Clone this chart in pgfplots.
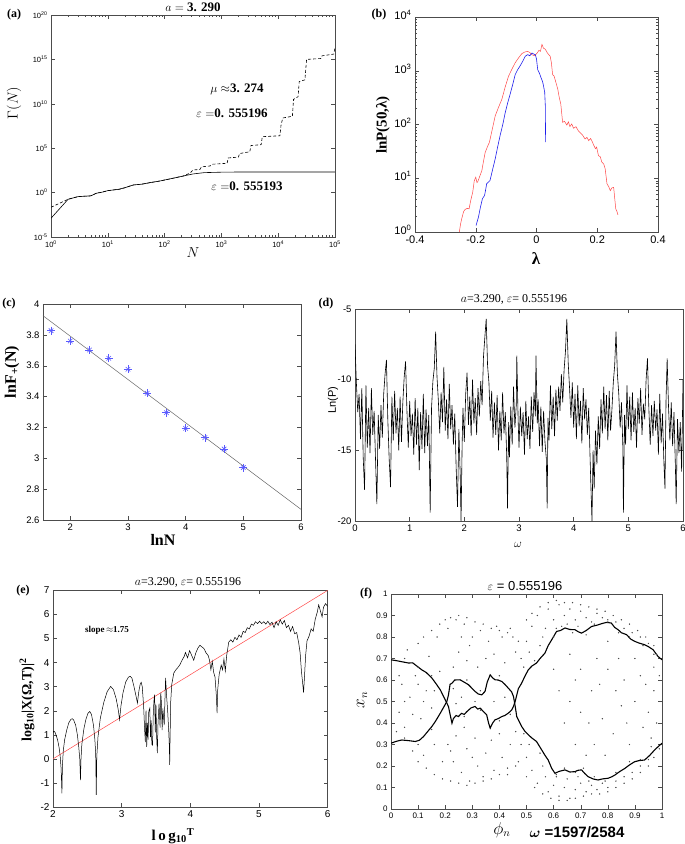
\documentclass[border=0pt]{standalone}
\usepackage{amsmath}
\usepackage{pgfplots}
\pgfplotsset{compat=1.18}
\usepackage{fontspec}
\setmainfont{Liberation Serif}
\setsansfont{Liberation Sans}
\newcommand\fs[1]{\fontsize{#1}{#1}\selectfont}
\definecolor{mred}{RGB}{255,70,70}
\definecolor{mblue}{RGB}{30,30,235}
\definecolor{sblue}{RGB}{90,90,255}
\pgfplotsset{
 base/.style={scale only axis, anchor=south west, tick align=inside,
   axis line style={line width=0.5pt,black!70},
   tick style={line width=0.4pt,black!70},
   major tick length=4pt, minor tick length=2pt,
   ticklabel style={font=\sffamily\fs{9}},
   /pgf/number format/assume math mode=true},
}
\begin{document}
\begin{tikzpicture}
\useasboundingbox (0pt,0pt) rectangle (685pt,-844pt);
% ---------------- (a)
\begin{axis}[base, at={(51pt,-237pt)}, width=284pt, height=222pt,
  xmin=0, xmax=5, ymin=-5, ymax=20,
  xtick={0,1,2,3,4,5},
  xticklabels={10\textsuperscript{0},10\textsuperscript{1},10\textsuperscript{2},10\textsuperscript{3},10\textsuperscript{4},10\textsuperscript{5}},
  ytick={-5,0,5,10,15,20},
  yticklabels={10\textsuperscript{-5},10\textsuperscript{0},10\textsuperscript{5},10\textsuperscript{10},10\textsuperscript{15},10\textsuperscript{20}},
  minor xtick={0.301,0.477,0.602,0.699,0.778,0.845,0.903,0.954,1.301,1.477,1.602,1.699,1.778,1.845,1.903,1.954,2.301,2.477,2.602,2.699,2.778,2.845,2.903,2.954,3.301,3.477,3.602,3.699,3.778,3.845,3.903,3.954,4.301,4.477,4.602,4.699,4.778,4.845,4.903,4.954},
  ticklabel style={font=\sffamily\fs{7.5}}]
\addplot[black, line width=0.6pt] coordinates {(0,-2.89)(0.301,-0.75)(0.477,-0.45)(0.6,-0.40)(0.7,-0.37)(0.8,-0.07)(0.9,0.05)(1.0,0.22)(1.1,0.30)(1.2,0.38)(1.3,0.55)(1.45,0.86)(1.6,0.95)(1.74,1.12)(1.92,1.31)(2.0,1.42)(2.15,1.62)(2.33,1.87)(2.5,2.10)(2.7,2.25)(3.0,2.30)(3.3,2.32)(5,2.32)};
\addplot[black, line width=0.6pt, dash pattern=on 3pt off 2pt] coordinates {(0,-1.65)(0.301,-0.75)(0.477,-0.45)(0.6,-0.40)(0.7,-0.37)(0.8,-0.07)(0.9,0.05)(1.0,0.22)(1.1,0.30)(1.2,0.38)(1.3,0.55)(1.45,0.86)(1.6,0.95)(1.74,1.12)(1.92,1.31)(2.0,1.42)(2.15,1.62)(2.33,1.87)(2.45,2.2)(2.5,2.55)(2.62,2.6)(2.65,2.9)(2.8,3.0)(2.85,3.2)(3.1,3.3)(3.12,3.9)(3.3,4.0)(3.32,4.4)(3.5,4.6)(3.52,5.3)(3.7,5.4)(3.72,6.3)(4.03,6.4)(4.05,7.6)(4.08,8.4)(4.25,8.6)(4.27,10.5)(4.35,10.8)(4.37,12.5)(4.47,12.7)(4.5,15.0)(4.75,15.1)(4.77,15.4)(4.98,15.6)(5,16.4)};
\end{axis}
% ---------------- (b)
\begin{axis}[base, at={(415pt,-232pt)}, width=243pt, height=215pt,
  xmin=-0.4, xmax=0.4, ymin=0, ymax=4,
  xtick={-0.4,-0.2,0,0.2,0.4},
  ytick={0,1,2,3,4},
  yticklabels={10\textsuperscript{0},10\textsuperscript{1},10\textsuperscript{2},10\textsuperscript{3},10\textsuperscript{4}},
  minor ytick={0.301,0.477,0.602,0.699,0.778,0.845,0.903,0.954,1.301,1.477,1.602,1.699,1.778,1.845,1.903,1.954,2.301,2.477,2.602,2.699,2.778,2.845,2.903,2.954,3.301,3.477,3.602,3.699,3.778,3.845,3.903,3.954},
  ticklabel style={font=\sffamily\fs{11}},
  yticklabel style={yshift=2pt}]
\addplot[mred, line width=0.5pt] coordinates {(-0.254,0.00)(-0.250,0.15)(-0.246,0.25)(-0.240,0.38)(-0.235,0.42)(-0.228,0.44)(-0.222,0.43)(-0.216,0.60)(-0.210,0.74)(-0.205,0.95)(-0.200,1.02)(-0.196,0.92)(-0.193,0.94)(-0.186,1.05)(-0.180,1.14)(-0.175,1.30)(-0.169,1.48)(-0.162,1.58)(-0.155,1.67)(-0.146,1.90)(-0.136,2.16)(-0.125,2.32)(-0.114,2.47)(-0.103,2.70)(-0.092,2.90)(-0.081,3.03)(-0.070,3.15)(-0.059,3.24)(-0.048,3.32)(-0.038,3.35)(-0.029,3.36)(-0.022,3.34)(-0.015,3.30)(-0.008,3.28)(0.001,3.32)(0.008,3.38)(0.013,3.36)(0.018,3.49)(0.023,3.42)(0.029,3.40)(0.036,3.33)(0.045,3.27)(0.049,3.15)(0.053,2.93)(0.058,2.90)(0.064,2.78)(0.070,2.66)(0.075,2.50)(0.080,2.38)(0.086,2.04)(0.092,2.06)(0.100,1.99)(0.105,2.05)(0.110,1.96)(0.116,2.01)(0.122,1.93)(0.130,1.96)(0.138,1.88)(0.145,1.84)(0.152,1.80)(0.160,1.73)(0.166,1.76)(0.172,1.70)(0.178,1.74)(0.182,1.70)(0.188,1.62)(0.194,1.55)(0.198,1.58)(0.204,1.42)(0.210,1.40)(0.215,1.30)(0.221,1.27)(0.226,1.18)(0.232,0.90)(0.238,0.84)(0.243,0.77)(0.248,0.82)(0.254,0.83)(0.258,0.60)(0.261,0.43)(0.265,0.38)(0.268,0.32)};
\addplot[mblue, line width=0.6pt] coordinates {(-0.199,0.12)(-0.195,0.20)(-0.191,0.28)(-0.185,0.45)(-0.178,0.62)(-0.171,0.68)(-0.167,0.80)(-0.164,0.90)(-0.158,0.93)(-0.153,0.96)(-0.145,1.15)(-0.136,1.36)(-0.128,1.58)(-0.120,1.79)(-0.111,2.00)(-0.103,2.22)(-0.095,2.40)(-0.087,2.56)(-0.078,2.75)(-0.070,2.93)(-0.062,3.02)(-0.054,3.09)(-0.045,3.18)(-0.037,3.27)(-0.029,3.30)(-0.022,3.28)(-0.015,3.33)(-0.009,3.31)(-0.004,3.30)(0.000,3.22)(0.004,3.02)(0.010,2.95)(0.015,2.87)(0.020,2.80)(0.023,2.72)(0.027,2.60)(0.029,2.35)(0.030,1.67)};
\end{axis}
% ---------------- (c)
\begin{axis}[base, at={(43pt,-520pt)}, width=258pt, height=216pt,
  xmin=1.527, xmax=6, ymin=2.6, ymax=4,
  xtick={2,3,4,5,6}, ytick={2.6,2.8,3,3.2,3.4,3.6,3.8,4},
  ticklabel style={font=\sffamily\fs{9.5}}]
\addplot[black!60, line width=0.5pt] coordinates {(1.527,3.924)(6,2.669)};
\addplot[only marks, mark=+, mark size=4pt, sblue, mark options={line width=0.6pt}] coordinates {(1.667,3.827)(2,3.760)(2.333,3.702)(2.667,3.648)(3,3.577)(3.333,3.421)(3.667,3.296)(4,3.194)(4.333,3.134)(4.667,3.060)(5,2.94)};
\addplot[only marks, mark=x, mark size=3.2pt, sblue, mark options={line width=0.6pt}] coordinates {(1.667,3.827)(2,3.760)(2.333,3.702)(2.667,3.648)(3,3.577)(3.333,3.421)(3.667,3.296)(4,3.194)(4.333,3.134)(4.667,3.060)(5,2.94)};
\end{axis}
% ---------------- (d)
\begin{axis}[base, at={(355pt,-521pt)}, width=328pt, height=212pt,
  xmin=0, xmax=6, ymin=-20, ymax=-5,
  xtick={0,1,2,3,4,5,6}, ytick={-20,-15,-10,-5},
  ticklabel style={font=\sffamily\fs{9.5}}]
\addplot[black, line width=0.6pt] coordinates {(0.000,-7.5)(0.025,-10.2)(0.050,-12.3)(0.075,-11.0)(0.100,-14.2)(0.125,-10.6)(0.150,-15.5)(0.175,-17.8)(0.200,-10.4)(0.225,-14.8)(0.250,-12.0)(0.275,-15.2)(0.300,-10.6)(0.325,-13.9)(0.350,-12.2)(0.375,-15.6)(0.400,-18.8)(0.425,-12.5)(0.450,-14.9)(0.475,-11.8)(0.500,-14.1)(0.525,-11.0)(0.550,-9.6)(0.575,-8.6)(0.600,-12.8)(0.625,-15.6)(0.650,-17.6)(0.675,-11.2)(0.700,-14.3)(0.725,-10.8)(0.750,-13.8)(0.775,-12.0)(0.800,-15.0)(0.825,-11.2)(0.850,-14.4)(0.875,-11.6)(0.900,-9.8)(0.925,-8.7)(0.950,-12.2)(0.975,-14.8)(1.000,-11.5)(1.025,-14.0)(1.050,-12.4)(1.075,-15.3)(1.100,-11.3)(1.125,-14.6)(1.150,-12.0)(1.175,-16.4)(1.200,-12.3)(1.225,-14.9)(1.250,-11.0)(1.275,-15.2)(1.300,-12.1)(1.325,-14.7)(1.350,-12.5)(1.375,-19.4)(1.400,-12.0)(1.425,-10.1)(1.450,-9.2)(1.475,-6.6)(1.500,-9.8)(1.525,-11.5)(1.550,-13.8)(1.575,-10.9)(1.600,-13.0)(1.625,-9.1)(1.650,-13.6)(1.675,-11.4)(1.700,-14.2)(1.725,-10.3)(1.750,-13.5)(1.775,-11.8)(1.800,-14.6)(1.825,-12.4)(1.850,-16.2)(1.875,-19.0)(1.900,-13.5)(1.925,-16.8)(1.940,-20.0)(1.960,-14.5)(1.975,-12.0)(2.000,-14.4)(2.025,-11.0)(2.050,-9.5)(2.075,-13.2)(2.100,-11.2)(2.125,-14.0)(2.150,-10.0)(2.175,-13.1)(2.200,-11.3)(2.225,-13.9)(2.250,-10.6)(2.275,-12.6)(2.300,-10.1)(2.325,-11.8)(2.350,-8.4)(2.375,-7.0)(2.400,-5.7)(2.425,-9.0)(2.450,-10.2)(2.475,-12.9)(2.500,-10.8)(2.525,-14.1)(2.550,-11.6)(2.575,-13.9)(2.600,-11.1)(2.625,-15.0)(2.650,-12.2)(2.675,-14.3)(2.700,-10.9)(2.725,-13.8)(2.750,-12.3)(2.775,-15.4)(2.790,-19.1)(2.810,-13.0)(2.825,-15.5)(2.850,-11.9)(2.875,-14.6)(2.900,-10.5)(2.925,-13.4)(2.950,-11.8)(2.960,-8.3)(2.985,-13.0)(3.000,-14.8)(3.025,-11.9)(3.050,-14.0)(3.075,-12.3)(3.100,-15.3)(3.125,-11.5)(3.150,-14.2)(3.175,-12.6)(3.200,-14.9)(3.225,-11.2)(3.250,-13.7)(3.275,-10.9)(3.300,-12.6)(3.310,-8.3)(3.335,-13.1)(3.350,-11.4)(3.375,-14.7)(3.400,-11.9)(3.425,-15.1)(3.450,-12.2)(3.475,-14.4)(3.500,-15.6)(3.515,-19.1)(3.530,-12.7)(3.550,-14.3)(3.575,-10.4)(3.600,-13.5)(3.625,-11.2)(3.650,-14.0)(3.675,-10.7)(3.700,-12.9)(3.725,-10.5)(3.750,-12.2)(3.775,-9.6)(3.800,-11.6)(3.825,-9.3)(3.850,-8.0)(3.875,-5.7)(3.900,-8.8)(3.925,-10.6)(3.950,-12.7)(3.975,-10.2)(4.000,-13.4)(4.025,-11.0)(4.050,-14.2)(4.075,-10.4)(4.100,-13.3)(4.125,-11.5)(4.150,-14.5)(4.175,-10.6)(4.200,-12.8)(4.225,-11.4)(4.250,-13.9)(4.275,-12.0)(4.300,-15.5)(4.315,-17.5)(4.335,-20.0)(4.355,-15.0)(4.375,-17.7)(4.400,-13.6)(4.425,-16.0)(4.450,-12.6)(4.475,-14.9)(4.500,-11.4)(4.525,-13.8)(4.550,-10.5)(4.575,-13.5)(4.600,-11.1)(4.625,-14.3)(4.650,-10.8)(4.675,-13.6)(4.700,-12.1)(4.725,-10.2)(4.750,-9.0)(4.775,-6.6)(4.800,-9.6)(4.825,-11.0)(4.850,-13.4)(4.875,-11.6)(4.900,-14.8)(4.910,-19.4)(4.930,-12.5)(4.950,-14.6)(4.975,-10.4)(5.000,-13.5)(5.025,-11.2)(5.050,-14.3)(5.075,-10.9)(5.100,-13.7)(5.125,-12.0)(5.150,-14.8)(5.175,-11.3)(5.200,-13.1)(5.225,-10.6)(5.250,-13.9)(5.275,-11.7)(5.300,-12.8)(5.325,-10.0)(5.350,-8.5)(5.375,-12.0)(5.400,-14.6)(5.425,-11.8)(5.450,-14.0)(5.475,-11.5)(5.500,-13.6)(5.525,-12.1)(5.550,-15.3)(5.575,-11.0)(5.600,-14.5)(5.625,-12.4)(5.650,-15.8)(5.670,-17.7)(5.690,-11.4)(5.710,-8.5)(5.735,-11.9)(5.760,-14.3)(5.785,-11.6)(5.810,-14.7)(5.835,-12.3)(5.860,-16.0)(5.875,-18.8)(5.900,-12.8)(5.925,-15.2)(5.950,-13.0)(5.975,-16.5)(6.000,-10.0)};
\end{axis}
% ---------------- (e)
\begin{axis}[base, at={(53pt,-807pt)}, width=274.6pt, height=216.6pt,
  xmin=2, xmax=6, ymin=-2, ymax=7,
  xtick={2,3,4,5,6}, ytick={-2,-1,0,1,2,3,4,5,6,7},
  ticklabel style={font=\sffamily\fs{10}}]
\addplot[mred, line width=0.5pt] coordinates {(2,0)(6,7)};
\addplot[black, line width=0.5pt] coordinates {(2.000,1.07)(2.005,1.14)(2.015,1.15)(2.03,1.10)(2.05,0.95)(2.07,0.75)(2.09,0.45)(2.105,0.1)(2.118,-0.4)(2.13,-1.43)(2.137,-0.3)(2.15,0.35)(2.17,0.8)(2.2,1.2)(2.23,1.5)(2.26,1.64)(2.28,1.67)(2.30,1.62)(2.33,1.4)(2.355,1.0)(2.375,0.5)(2.39,0.0)(2.40,-0.88)(2.408,0.0)(2.42,0.6)(2.45,1.25)(2.48,1.65)(2.51,1.9)(2.535,1.97)(2.56,1.85)(2.59,1.4)(2.61,0.8)(2.622,0.2)(2.63,-1.5)(2.638,0.1)(2.655,0.9)(2.69,1.7)(2.74,2.35)(2.79,2.8)(2.84,3.01)(2.88,2.88)(2.92,2.5)(2.95,2.05)(2.97,1.63)(2.99,2.2)(3.02,2.75)(3.06,3.2)(3.10,3.4)(3.126,3.43)(3.15,3.35)(3.18,3.0)(3.21,2.6)(3.23,2.32)(3.25,2.8)(3.27,3.1)(3.285,3.18)(3.30,3.0)(3.32,2.2)(3.335,1.2)(3.345,0.7)(3.355,2.0)(3.365,0.5)(3.375,1.5)(3.385,0.8)(3.395,1.97)(3.41,2.1)(3.42,0.9)(3.43,1.6)(3.44,0.6)(3.45,0.57)(3.46,1.8)(3.47,2.4)(3.48,2.67)(3.49,1.1)(3.50,2.25)(3.51,0.9)(3.52,0.24)(3.53,1.5)(3.545,2.3)(3.56,1.3)(3.57,2.75)(3.58,2.3)(3.59,1.2)(3.60,2.1)(3.62,1.4)(3.64,3.37)(3.655,2.6)(3.67,2.0)(3.685,1.2)(3.695,0.5)(3.70,-0.25)(3.705,0.8)(3.715,2.4)(3.73,3.1)(3.76,3.57)(3.79,3.7)(3.82,3.8)(3.85,3.92)(3.88,4.1)(3.91,4.25)(3.93,4.42)(3.96,4.2)(3.99,4.5)(4.02,4.3)(4.05,4.1)(4.08,4.4)(4.11,4.6)(4.14,4.72)(4.17,4.65)(4.20,4.58)(4.23,4.4)(4.26,4.3)(4.28,4.1)(4.30,3.7)(4.32,4.05)(4.34,3.6)(4.36,3.4)(4.38,2.6)(4.39,1.9)(4.40,2.9)(4.42,3.5)(4.45,3.9)(4.47,3.7)(4.49,4.15)(4.51,3.65)(4.53,4.3)(4.56,4.85)(4.59,4.95)(4.62,4.85)(4.65,5.05)(4.68,4.95)(4.71,5.15)(4.74,5.05)(4.77,5.3)(4.80,5.25)(4.83,5.45)(4.86,5.4)(4.89,5.6)(4.92,5.55)(4.95,5.7)(4.98,5.62)(5.01,5.72)(5.04,5.62)(5.07,5.7)(5.10,5.6)(5.13,5.72)(5.16,5.58)(5.19,5.68)(5.22,5.45)(5.25,5.7)(5.28,5.55)(5.31,5.78)(5.34,5.6)(5.37,5.75)(5.40,5.45)(5.43,5.55)(5.46,5.3)(5.49,5.5)(5.52,5.2)(5.55,5.25)(5.58,4.8)(5.60,4.4)(5.62,3.6)(5.635,3.2)(5.65,2.75)(5.665,3.5)(5.68,4.3)(5.70,4.9)(5.73,5.1)(5.76,5.4)(5.79,5.3)(5.82,5.8)(5.85,6.1)(5.87,6.4)(5.89,6.2)(5.92,5.9)(5.94,6.3)(5.97,6.45)(6.0,6.34)};
\end{axis}
% ---------------- (f)
\begin{axis}[base, at={(391pt,-809pt)}, width=271pt, height=215pt,
  xmin=0, xmax=1, ymin=0, ymax=1,
  xtick={0,0.1,0.2,0.3,0.4,0.5,0.6,0.7,0.8,0.9,1},
  ytick={0,0.1,0.2,0.3,0.4,0.5,0.6,0.7,0.8,0.9,1},
  ticklabel style={font=\sffamily\fs{8}}]
\addplot[only marks, mark=*, mark size=0.45pt, black!70] coordinates {(0.03,0.45)(0.05,0.38)(0.04,0.58)(0.07,0.52)(0.09,0.62)(0.11,0.42)(0.13,0.55)(0.15,0.47)(0.08,0.27)(0.12,0.25)(0.06,0.74)(0.10,0.77)(0.14,0.71)(0.17,0.80)(0.16,0.30)(0.19,0.22)(0.02,0.36)(0.18,0.64)(0.21,0.84)(0.24,0.88)(0.27,0.86)(0.30,0.80)(0.33,0.83)(0.36,0.78)(0.25,0.73)(0.28,0.69)(0.32,0.66)(0.38,0.72)(0.41,0.80)(0.44,0.84)(0.47,0.78)(0.23,0.66)(0.35,0.70)(0.42,0.68)(0.46,0.73)(0.39,0.85)(0.29,0.76)(0.26,0.80)(0.21,0.30)(0.23,0.22)(0.26,0.17)(0.29,0.13)(0.32,0.20)(0.35,0.26)(0.38,0.18)(0.41,0.24)(0.44,0.30)(0.47,0.22)(0.24,0.34)(0.28,0.28)(0.31,0.33)(0.34,0.15)(0.37,0.32)(0.40,0.35)(0.43,0.16)(0.27,0.38)(0.30,0.24)(0.22,0.27)(0.46,0.36)(0.26,0.52)(0.31,0.50)(0.38,0.50)(0.42,0.52)(0.24,0.49)(0.48,0.70)(0.50,0.78)(0.52,0.85)(0.54,0.90)(0.56,0.80)(0.58,0.93)(0.60,0.88)(0.62,0.95)(0.64,0.90)(0.66,0.93)(0.68,0.88)(0.70,0.92)(0.72,0.89)(0.74,0.87)(0.76,0.91)(0.78,0.89)(0.80,0.88)(0.83,0.87)(0.86,0.84)(0.89,0.82)(0.92,0.80)(0.95,0.77)(0.51,0.73)(0.55,0.76)(0.57,0.84)(0.61,0.84)(0.65,0.86)(0.69,0.85)(0.49,0.66)(0.53,0.69)(0.48,0.30)(0.50,0.24)(0.52,0.18)(0.54,0.12)(0.56,0.20)(0.58,0.08)(0.60,0.11)(0.62,0.06)(0.64,0.10)(0.66,0.05)(0.68,0.09)(0.70,0.12)(0.72,0.08)(0.74,0.11)(0.76,0.09)(0.78,0.12)(0.80,0.10)(0.83,0.13)(0.86,0.15)(0.89,0.17)(0.92,0.20)(0.95,0.23)(0.51,0.30)(0.55,0.26)(0.57,0.15)(0.61,0.15)(0.65,0.14)(0.69,0.15)(0.73,0.13)(0.49,0.35)(0.66,0.72)(0.70,0.65)(0.74,0.55)(0.78,0.42)(0.82,0.35)(0.86,0.60)(0.90,0.50)(0.93,0.38)(0.68,0.30)(0.72,0.25)(0.76,0.70)(0.80,0.78)(0.84,0.70)(0.88,0.30)(0.92,0.62)(0.95,0.45)(0.97,0.55)(0.64,0.40)(0.62,0.55)(0.70,0.45)(0.77,0.58)(0.85,0.48)(0.60,0.65)(0.98,0.40)(0.96,0.33)(0.99,0.62)(0.98,0.72)(0.99,0.28)(0.97,0.66)(0.12,0.80)(0.15,0.83)(0.18,0.86)(0.20,0.88)(0.22,0.89)(0.25,0.90)(0.28,0.89)(0.31,0.87)(0.34,0.86)(0.37,0.84)(0.40,0.83)(0.43,0.82)(0.45,0.80)(0.10,0.22)(0.13,0.19)(0.16,0.16)(0.19,0.14)(0.22,0.13)(0.25,0.12)(0.28,0.11)(0.31,0.12)(0.34,0.13)(0.37,0.14)(0.40,0.16)(0.43,0.19)(0.46,0.20)(0.50,0.88)(0.52,0.91)(0.55,0.94)(0.58,0.96)(0.61,0.97)(0.64,0.96)(0.67,0.96)(0.70,0.95)(0.73,0.94)(0.76,0.93)(0.79,0.92)(0.82,0.90)(0.85,0.88)(0.88,0.86)(0.91,0.83)(0.94,0.80)(0.97,0.76)(0.50,0.15)(0.53,0.10)(0.56,0.07)(0.59,0.05)(0.62,0.04)(0.65,0.04)(0.68,0.05)(0.71,0.06)(0.74,0.07)(0.77,0.07)(0.80,0.08)(0.83,0.10)(0.86,0.12)(0.89,0.14)(0.92,0.17)(0.95,0.20)(0.97,0.24)(0.60,0.80)(0.63,0.85)(0.67,0.82)(0.72,0.81)(0.75,0.86)(0.80,0.87)(0.84,0.82)(0.88,0.80)(0.93,0.76)(0.97,0.72)(0.61,0.16)(0.64,0.19)(0.68,0.17)(0.71,0.19)(0.75,0.15)(0.79,0.13)(0.83,0.17)(0.88,0.22)(0.92,0.23)(0.96,0.29)(0.05,0.70)(0.10,0.66)(0.15,0.62)(0.05,0.33)(0.10,0.30)(0.15,0.37)(0.23,0.56)(0.28,0.60)(0.33,0.55)(0.40,0.62)(0.27,0.43)(0.33,0.46)(0.40,0.41)(0.44,0.44)(0.05,0.50)(0.08,0.44)(0.12,0.50)(0.16,0.55)(0.10,0.58)(0.03,0.62)(0.68,0.60)(0.73,0.40)(0.80,0.65)(0.83,0.55)(0.87,0.40)(0.90,0.70)(0.75,0.30)(0.79,0.25)(0.66,0.50)(0.94,0.58)};
\addplot[black, line width=1.1pt] coordinates {(0,0.694)(0.02,0.69)(0.04,0.685)(0.065,0.679)(0.08,0.68)(0.09,0.67)(0.114,0.647)(0.13,0.635)(0.151,0.609)(0.165,0.585)(0.182,0.554)(0.2,0.508)(0.212,0.477)(0.218,0.44)(0.225,0.399)(0.23,0.42)(0.24,0.435)(0.249,0.43)(0.26,0.445)(0.27,0.44)(0.28,0.453)(0.295,0.47)(0.31,0.477)(0.32,0.465)(0.329,0.469)(0.34,0.455)(0.353,0.438)(0.36,0.40)(0.366,0.376)(0.375,0.40)(0.384,0.415)(0.395,0.42)(0.409,0.43)(0.42,0.435)(0.433,0.446)(0.445,0.46)(0.452,0.477)(0.458,0.50)(0.464,0.53)(0.47,0.56)(0.482,0.585)(0.495,0.62)(0.507,0.648)(0.52,0.665)(0.537,0.679)(0.55,0.70)(0.568,0.725)(0.58,0.76)(0.593,0.787)(0.611,0.826)(0.625,0.83)(0.642,0.842)(0.66,0.835)(0.679,0.834)(0.69,0.825)(0.703,0.818)(0.72,0.83)(0.74,0.849)(0.76,0.855)(0.777,0.862)(0.795,0.868)(0.813,0.865)(0.825,0.845)(0.838,0.834)(0.85,0.82)(0.869,0.811)(0.885,0.79)(0.899,0.78)(0.915,0.772)(0.936,0.764)(0.95,0.755)(0.967,0.741)(0.985,0.71)(1,0.694)};
\addplot[black, line width=1.1pt] coordinates {(0,0.306)(0.02,0.315)(0.04,0.321)(0.065,0.318)(0.09,0.314)(0.105,0.32)(0.12,0.337)(0.135,0.36)(0.151,0.384)(0.165,0.41)(0.182,0.446)(0.195,0.475)(0.206,0.5)(0.212,0.53)(0.218,0.58)(0.225,0.585)(0.235,0.60)(0.255,0.601)(0.27,0.59)(0.286,0.578)(0.30,0.56)(0.31,0.547)(0.322,0.535)(0.335,0.531)(0.347,0.547)(0.355,0.59)(0.366,0.624)(0.375,0.61)(0.384,0.601)(0.395,0.60)(0.409,0.593)(0.42,0.58)(0.433,0.562)(0.445,0.545)(0.452,0.523)(0.458,0.48)(0.464,0.43)(0.472,0.41)(0.482,0.384)(0.495,0.36)(0.507,0.345)(0.52,0.33)(0.537,0.314)(0.556,0.275)(0.568,0.25)(0.58,0.228)(0.593,0.189)(0.605,0.166)(0.62,0.175)(0.642,0.182)(0.66,0.172)(0.679,0.174)(0.69,0.18)(0.703,0.182)(0.715,0.165)(0.727,0.151)(0.745,0.14)(0.764,0.135)(0.78,0.14)(0.801,0.143)(0.815,0.15)(0.826,0.158)(0.845,0.175)(0.863,0.189)(0.88,0.205)(0.899,0.220)(0.915,0.225)(0.936,0.228)(0.955,0.25)(0.973,0.275)(0.99,0.295)(1,0.306)};
\end{axis}
% ---------------- texts
\node[font=\bfseries\fs{12}] at (14pt,-15pt) {(a)};
\node at (193pt,-7pt) {\fs{13}$a=$ \textbf{3. 290}};
\node[rotate=90] at (14pt,-103pt) {\fs{15}$\Gamma(N)$};
\node at (193pt,-253pt) {\fs{15}$N$};
\node at (237pt,-89pt) {\fs{13}$\mu\approx$\textbf{3. 274}};
\node at (232pt,-113pt) {\fs{13}$\varepsilon=$\textbf{0. 555196}};
\node at (247pt,-186pt) {\fs{13}$\varepsilon=$\textbf{0. 555193}};
\node[font=\bfseries\fs{12}] at (379pt,-15pt) {(b)};
\node[rotate=90] at (383pt,-125pt) {\fs{15}\bfseries lnP(50,λ)};
\node at (536pt,-259pt) {\fs{17}\bfseries λ};
\node[font=\bfseries\fs{12}] at (9pt,-304pt) {(c)};
\node[rotate=90] at (12pt,-372pt) {\fs{16}\bfseries lnF\textsubscript{+}(N)};
\node at (163pt,-540pt) {\fs{16}\bfseries lnN};
\node[font=\bfseries\fs{12}] at (326pt,-304pt) {(d)};
\node at (514pt,-299pt) {\fs{12}$a$=3.290, $\varepsilon$= 0.555196};
\node[rotate=90] at (333pt,-400pt) {\sffamily\fs{11}Ln(P)};
\node at (518pt,-545pt) {\fs{13}$\omega$};
\node[font=\bfseries\fs{12}] at (23pt,-591pt) {(e)};
\node at (188pt,-582pt) {\fs{12}$a$=3.290, $\varepsilon$= 0.555196};
\node[rotate=90] at (27pt,-700pt) {\fs{14}\bfseries log\textsubscript{10}|X(Ω,T)|\textsuperscript{2}};
\node at (173pt,-836pt) {\fs{15}\bfseries l\,o\,g\textsubscript{10}\textsuperscript{T}};
\node at (107pt,-630pt) {\fs{9}\bfseries slope$\,\approx$1.75};
\node[font=\bfseries\fs{12}] at (366pt,-594pt) {(f)};
\node at (525pt,-586pt) {\sffamily\fs{13}$\varepsilon$ = 0.555196};
\node[rotate=90] at (362pt,-700pt) {\fs{16}$x_n$};
\node at (502pt,-830pt) {\fs{16}$\phi_n$};
\node at (577pt,-832pt) {\sffamily\bfseries\fs{15}$\boldsymbol{\omega}$ =1597/2584};
\end{tikzpicture}
\end{document}
